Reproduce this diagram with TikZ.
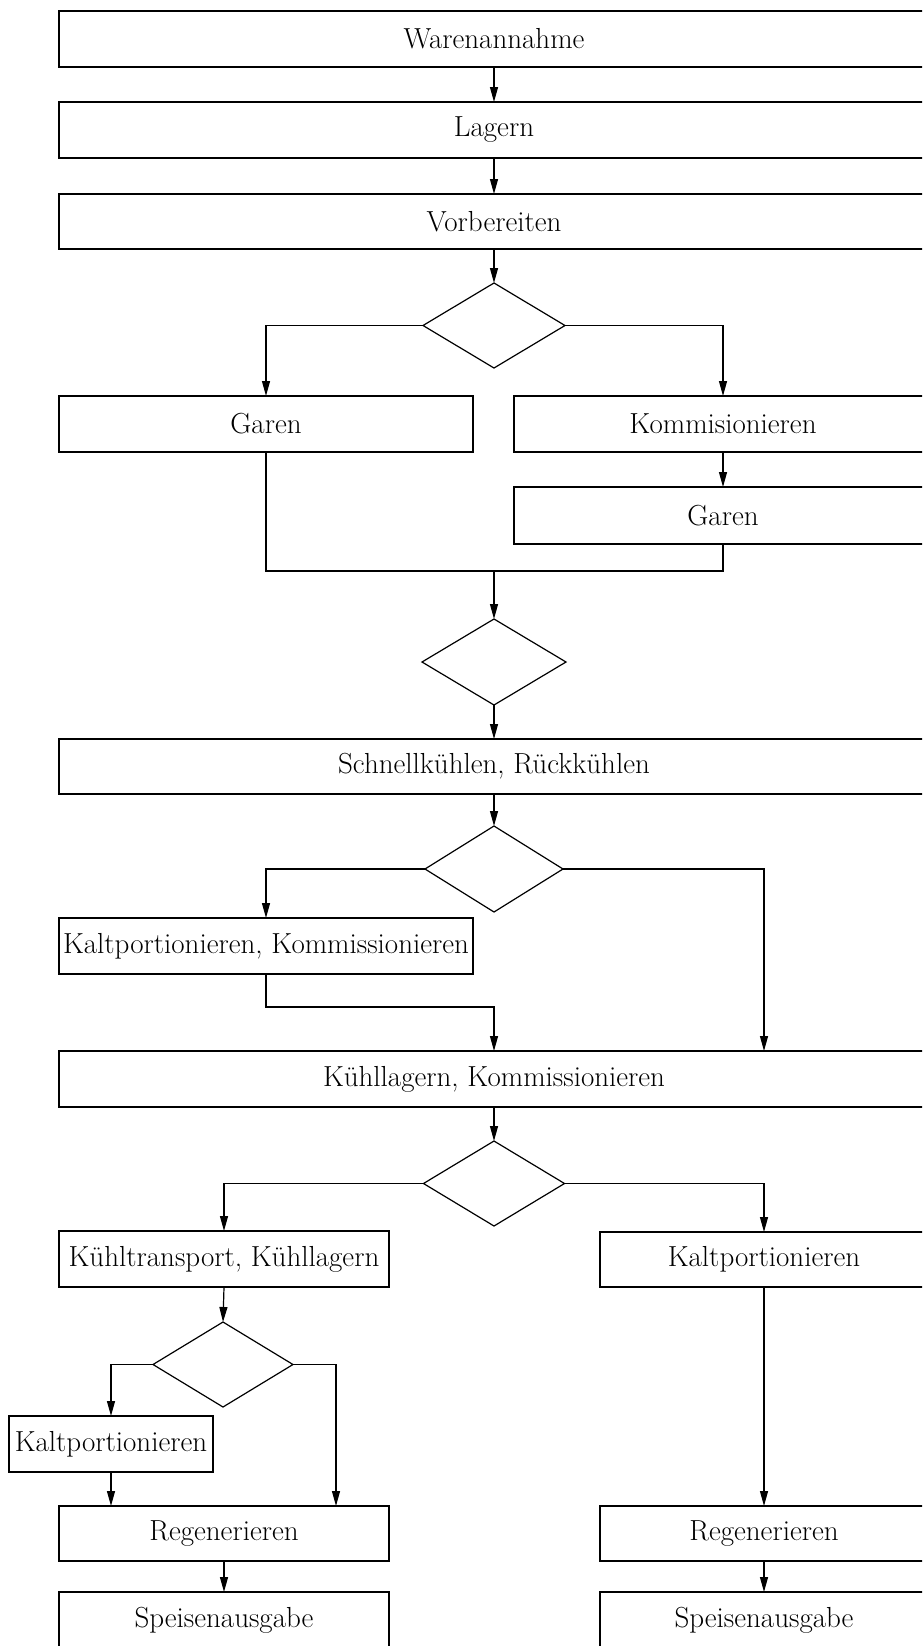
\documentclass[tikz,border=0pt]{standalone}
\usetikzlibrary{arrows.meta,shapes.geometric}
\begin{document}
\begin{tikzpicture}[x=1pt,y=-1pt,
  box/.style={draw, line width=1.6pt, inner sep=0pt, outer sep=0pt, font=\fontsize{29}{34}\selectfont},
  dec/.style={draw, diamond, line width=1.2pt, inner sep=0pt, outer sep=0pt, minimum width=142pt, minimum height=85pt},
  con/.style={line width=1.2pt},
  arr/.style={line width=1.2pt, -{Triangle[length=15pt,width=8pt]}}]
\useasboundingbox (0,0) rectangle (922,1646);
\fill[white] (0,0) rectangle (922,1646);
\clip (0,0) rectangle (922,1646);
% boxes and decisions
\node[box, minimum width=870pt, minimum height=56pt] (wa) at (494,39) {Warenannahme};
\node[box, minimum width=870pt, minimum height=56pt] (lag) at (494,130) {Lagern};
\node[box, minimum width=870pt, minimum height=55pt] (vor) at (494,221.5) {Vorbereiten};
\node[dec] (d1) at (494,325.5) {};
\node[box, minimum width=414pt, minimum height=56pt] (garL) at (266,424) {Garen};
\node[box, minimum width=418pt, minimum height=56pt] (kom) at (723,424) {Kommisionieren};
\node[box, minimum width=418pt, minimum height=57pt] (garR) at (723,515.5) {Garen};
\coordinate (mj) at (494,571);
\node[dec, minimum height=86pt, minimum width=144pt] (d2) at (494,662) {};
\node[box, minimum width=870pt, minimum height=55pt] (sch) at (494,766.5) {Schnellkühlen, Rückkühlen};
\node[dec, minimum width=138pt, minimum height=86pt] (d3) at (494,869) {};
\node[box, minimum width=414pt, minimum height=56pt] (kk) at (266,946) {Kaltportionieren, Kommissionieren};
\coordinate (j2) at (494,1007);
\node[box, minimum width=870pt, minimum height=56pt] (kl) at (494,1079) {Kühllagern, Kommissionieren};
\coordinate (klr) at (764,1051);
\node[dec, minimum width=141pt, minimum height=85pt] (d4) at (494,1183.5) {};
\node[box, minimum width=330pt, minimum height=56pt] (kt) at (224,1259) {Kühltransport, Kühllagern};
\node[box, minimum width=328pt, minimum height=55pt] (kpR) at (764,1259.5) {Kaltportionieren};
\node[dec, minimum width=140pt, minimum height=85pt] (d5) at (223,1364.5) {};
\node[box, minimum width=204pt, minimum height=56pt] (kpS) at (111,1444) {Kaltportionieren};
\node[box, minimum width=330pt, minimum height=55pt] (regL) at (224,1533.5) {Regenerieren};
\coordinate (rlr) at (336,1506);
\node[box, minimum width=330pt, minimum height=56pt] (spL) at (224,1620) {Speisenausgabe};
\node[box, minimum width=328pt, minimum height=55pt] (regR) at (764,1533.5) {Regenerieren};
\node[box, minimum width=328pt, minimum height=56pt] (spR) at (764,1620) {Speisenausgabe};
% connectors
\draw[arr] (wa.south) -- (lag.north);
\draw[arr] (lag.south) -- (vor.north);
\draw[arr] (vor.south) -- (d1.north);
\draw[arr] (d1.west) -| (garL.north);
\draw[arr] (d1.east) -| (kom.north);
\draw[arr] (kom.south) -- (garR.north);
\draw[con] (garL.south) |- (mj) -| (garR.south);
\draw[arr] (mj) -- (d2.north);
\draw[arr] (d2.south) -- (sch.north);
\draw[arr] (sch.south) -- (d3.north);
\draw[arr] (d3.west) -| (kk.north);
\draw[arr] (d3.east) -| (klr);
\draw[arr] (kk.south) |- (j2) -- (kl.north);
\draw[arr] (kl.south) -- (d4.north);
\draw[arr] (d4.west) -| (kt.north);
\draw[arr] (d4.east) -| (kpR.north);
\draw[arr] (kt.south) -- (d5.north);
\draw[arr] (d5.west) -| (kpS.north);
\draw[arr] (d5.east) -| (rlr);
\draw[arr] (kpS.south) -- (kpS.south |- regL.north);
\draw[arr] (regL.south) -- (spL.north);
\draw[arr] (kpR.south) -- (regR.north);
\draw[arr] (regR.south) -- (spR.north);
\end{tikzpicture}
\end{document}
